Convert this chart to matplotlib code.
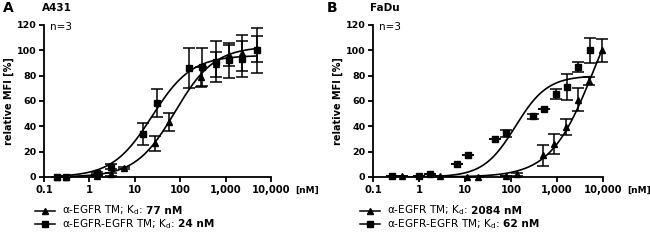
import numpy as np
import matplotlib
matplotlib.use("Agg")
import matplotlib.pyplot as plt
from matplotlib.lines import Line2D

# A431 data
a_x_sq = [0.19, 0.3, 1.5, 3.0, 15, 31, 155, 305, 600, 1170, 2300, 4800]
a_y_sq = [0, 0, 3, 8, 34, 58.5, 86, 87, 91, 92, 93, 100]
a_e_sq = [0, 0, 1, 2, 9, 11, 16, 15, 16, 14, 14, 18]
a_x_tr = [0.19, 0.3, 1.5, 3.0, 5.8, 28, 57, 282, 600, 1170, 2300, 4800]
a_y_tr = [0, 0, 1, 2, 7, 26.5, 43.5, 79, 89, 96, 98, 101]
a_e_tr = [0, 0, 0.5, 1, 1, 6, 7, 8, 10, 8, 14, 10]

# FaDu data
b_x_sq = [0.26, 1.0, 1.75, 6.6, 11.8, 45, 78, 295, 525, 935, 1620, 2900, 5200]
b_y_sq = [0.5, 1, 2, 10, 17, 30, 34.5, 48, 54, 65.5, 71, 87, 100]
b_e_sq = [0, 0, 0, 0, 0, 0, 3, 2, 0, 4, 10, 4, 10]
b_x_tr = [0.42, 2.9, 11.2, 19.5, 78, 132, 500, 875, 1550, 2800, 5000, 9500]
b_y_tr = [0.5, 0.5, 0, 0, 1, 2, 17, 26, 39.5, 61, 76, 100]
b_e_tr = [0, 0, 0, 0, 0, 1, 8, 8, 6, 9, 3, 9]

# fitted curve parameters: top, ec50, hill
a_fit_sq = [96, 24, 1.0]
a_fit_tr = [103, 77, 1.0]
b_fit_sq = [80, 125, 1.25]
b_fit_tr = [170, 6400, 0.92]

a_kd = ["77", "24"]
b_kd = ["2084", "62"]
names = [r"$\alpha$-EGFR TM; K$_{d}$:", r"$\alpha$-EGFR-EGFR TM; K$_{d}$:"]

xticks = [0.1, 1, 10, 100, 1000, 10000]
xticklabels = ["0.1", "1", "10", "100", "1,000", "10,000"]
yticks = [0, 20, 40, 60, 80, 100, 120]

W, H = 650, 242


def hill(x, p):
    top, ec, h = p
    return top * x ** h / (ec ** h + x ** h)


def draw_panel(ax, xs_tr, ys_tr, es_tr, fit_tr, xs_sq, ys_sq, es_sq, fit_sq, kd, leg_x):
    for xs, ys, es, fit, m in [(xs_tr, ys_tr, es_tr, fit_tr, "^"), (xs_sq, ys_sq, es_sq, fit_sq, "s")]:
        xs = np.array(xs, dtype=float)
        ax.errorbar(xs, ys, yerr=es, fmt=m, color="k", ms=5, capsize=4.5,
                    elinewidth=1.1, capthick=1.1, zorder=3, clip_on=False)
        xx = np.logspace(np.log10(xs.min()), np.log10(xs.max()), 300)
        ax.plot(xx, hill(xx, fit), color="k", lw=1.2)

    ax.set_xscale("log")
    ax.set_xlim(0.1, 10000)
    ax.set_ylim(0, 120)
    ax.set_xticks(xticks)
    ax.set_xticklabels(xticklabels)
    ax.minorticks_off()
    ax.set_yticks(yticks)
    for s in ["top", "right"]:
        ax.spines[s].set_visible(False)
    for s in ["left", "bottom"]:
        ax.spines[s].set_linewidth(1.3)
    ax.tick_params(direction="out", length=3.5, width=1.3, pad=2)
    ax.tick_params(axis="x", labelsize=7.2)
    ax.tick_params(axis="y", labelsize=6.8)
    for lab in ax.get_xticklabels() + ax.get_yticklabels():
        lab.set_fontweight("bold")
    ax.set_ylabel("relative MFI [%]", fontsize=7, fontweight="bold", labelpad=2)
    ax.text(0.025, 0.99, "n=3", transform=ax.transAxes, fontsize=7.5, va="center", ha="left")
    ax.text(1.105, -0.09, "[nM]", transform=ax.transAxes, fontsize=6.5, fontweight="bold",
            va="center", ha="left")

    # legend drawn by hand below the axes
    fig = ax.figure
    r = fig.canvas.get_renderer()
    for i, (m, y) in enumerate([("^", 210.5), ("s", 224)]):
        yf = 1 - y / H
        yb = 1 - (y + 3) / H
        fig.add_artist(Line2D([leg_x / W, (leg_x + 20) / W], [yf, yf], color="k", lw=1.1,
                              transform=fig.transFigure))
        fig.add_artist(Line2D([(leg_x + 10) / W], [yf], color="k", marker=m, ms=3.8,
                              transform=fig.transFigure))
        t = fig.text((leg_x + 27) / W, yb, names[i], fontsize=7.6, va="baseline", ha="left")
        bb = t.get_window_extent(renderer=r)
        fig.text((bb.x1 + 3) / W, yb, kd[i] + " nM", fontsize=7.6, fontweight="bold",
                 va="baseline", ha="left")


plt.rcParams["mathtext.default"] = "regular"
fig = plt.figure(figsize=(6.5, 2.42), dpi=100)
ax1 = fig.add_axes([44 / W, 1 - 177 / H, 227 / W, 152 / H])
ax2 = fig.add_axes([373 / W, 1 - 177 / H, 230 / W, 152 / H])

draw_panel(ax1, a_x_tr, a_y_tr, a_e_tr, a_fit_tr, a_x_sq, a_y_sq, a_e_sq, a_fit_sq, a_kd, 35)
draw_panel(ax2, b_x_tr, b_y_tr, b_e_tr, b_fit_tr, b_x_sq, b_y_sq, b_e_sq, b_fit_sq, b_kd, 360)

fig.text(3 / W, 1 - 8 / H, "A", fontsize=10, fontweight="bold", va="center")
fig.text(42 / W, 1 - 8 / H, "A431", fontsize=7.5, fontweight="bold", va="center")
fig.text(327 / W, 1 - 8 / H, "B", fontsize=10, fontweight="bold", va="center")
fig.text(370 / W, 1 - 8 / H, "FaDu", fontsize=7.5, fontweight="bold", va="center")

fig.savefig("out.png", dpi=100)
